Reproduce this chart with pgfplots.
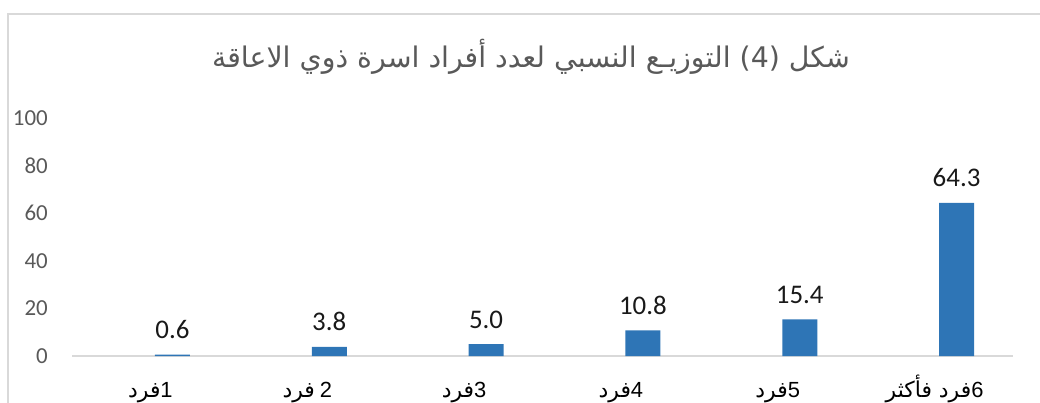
\documentclass[border=0pt]{standalone}
\usepackage{pgfplots}
\pgfplotsset{compat=1.18}
\usepackage{fontspec}
\setmainfont{Carlito}
\newfontfamily\arabicfont[Script=Arabic]{DejaVu Sans}
\newfontfamily\arial{Liberation Sans}
\TeXXeTstate=1
\definecolor{barblue}{HTML}{2E75B6}
\definecolor{txtgray}{HTML}{595959}
\definecolor{linegray}{HTML}{D9D9D9}
\begin{document}
\begin{tikzpicture}
\path[use as bounding box] (0bp,0bp) rectangle (1040bp,403bp);
\draw[linegray, line width=2bp] (8.3bp,0bp) -- (8.3bp,389.3bp) -- (1040bp,389.3bp);
\node[text=txtgray, font=\arabicfont\fontsize{28.5}{33}\selectfont, inner sep=0pt] at (531bp,346bp) {\beginR شكل (4) التوزيـع النسبي لعدد أفراد اسرة ذوي الاعاقة\endR};
\begin{axis}[
  at={(72bp,47bp)}, anchor=south west,
  scale only axis, width=941bp, height=238bp,
  xmin=-0.5, xmax=5.5, ymin=0, ymax=100,
  ytick={0,20,40,60,80,100},
  xtick={0,1,2,3,4,5},
  xticklabels={
    {\beginR{\arial 1}{\arabicfont فرد}\endR},
    {\beginR{\arial 2} {\arabicfont فرد}\endR},
    {\beginR{\arial 3}{\arabicfont فرد}\endR},
    {\beginR{\arial 4}{\arabicfont فرد}\endR},
    {\beginR{\arial 5}{\arabicfont فرد}\endR},
    {\beginR{\arial 6}{\arabicfont فرد فأكثر}\endR}},
  axis x line*=bottom, axis y line*=left,
  y axis line style={draw=none},
  x axis line style={draw=linegray, line width=1.5bp, -},
  major tick length=0pt,
  /pgf/number format/assume math mode=true,
  yticklabel style={font=\fontsize{23}{27}\selectfont, text=txtgray, anchor=east, inner sep=0pt, xshift=-24bp},
  xticklabel style={font=\fontsize{22}{26}\selectfont, text=black, anchor=base, inner sep=0pt, yshift=-41bp},
  ybar, bar width=35bp, bar shift=22bp,
  nodes near coords={\pgfmathprintnumber[fixed, fixed zerofill, precision=1]{\pgfplotspointmeta}},
  every node near coord/.style={anchor=base, xshift=22bp, yshift=16bp, inner sep=0pt, font=\fontsize{27}{31}\selectfont, text=black!90},
  clip=false,
]
\addplot[fill=barblue, draw=none] coordinates {(0,0.6) (1,3.8) (2,5.0) (3,10.8) (4,15.4) (5,64.3)};
\end{axis}
\end{tikzpicture}
\end{document}
